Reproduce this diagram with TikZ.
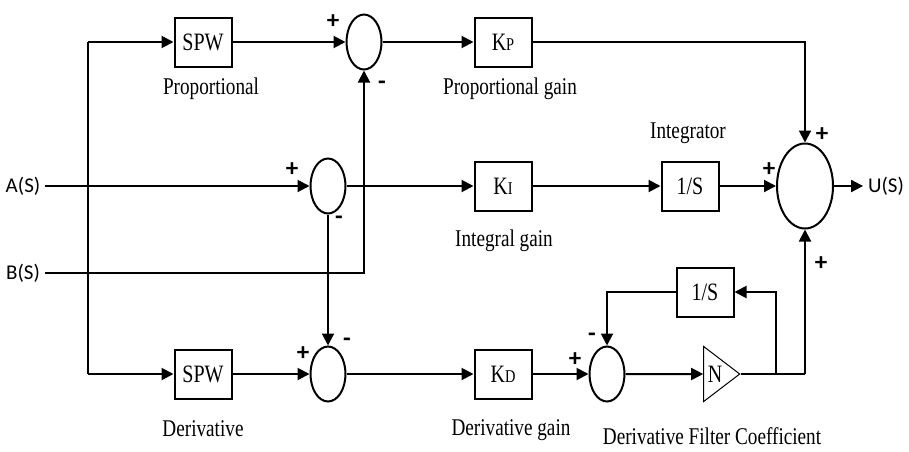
\documentclass[tikz,border=0pt]{standalone}
\usepackage{fontspec}
\setmainfont{Liberation Serif}[FakeStretch=0.8]
\newfontfamily\iofont{Carlito}
\usetikzlibrary{arrows.meta}
\usetikzlibrary{shapes.geometric}
\usetikzlibrary{positioning}

\tikzset{
  block/.style   = {draw, line width=1pt, minimum width=28.5pt, minimum height=24.5pt,
                    inner sep=0pt, font=\fontsize{12.5}{14}\selectfont},
  sumnode/.style = {draw, ellipse, line width=1pt, minimum width=17.5pt,
                    minimum height=27.5pt, inner sep=0pt},
  gainnode/.style = {draw, isosceles triangle, isosceles triangle stretches,
                    line width=0.5pt, minimum height=18pt, minimum width=27.5pt,
                    inner sep=0pt, font=\fontsize{12.5}{14}\selectfont},
  sgn/.style     = {inner sep=0pt, font=\iofont\bfseries\fontsize{12.5}{12}\selectfont},
  lbl/.style     = {inner sep=0pt, font=\fontsize{12}{14}\selectfont},
  io/.style      = {inner sep=2pt, font=\iofont\fontsize{10.5}{12}\selectfont},
}
\newcommand{\subsc}[1]{{\fontsize{9}{9}\selectfont #1}}

\begin{document}
\begin{tikzpicture}[x=0.5pt, y=-0.5pt, line width=1pt, >={Triangle[length=6pt,width=6pt]}]
        \useasboundingbox (0,0) rectangle (909,451);

        % inputs
        \node[io] (as) at (23,186)    {A(S)};
        \node[io] (bs) at (23,273)    {B(S)};
        \coordinate (ptop) at (88,42);
        \coordinate (pbot) at (88,374);

        % blocks
        \node[block]   (spwp) at (203,42)  {SPW};
        \node[sumnode] (sump) at (364,42)  {};
        \node[block]   (kp)   at (503,42)  {K\subsc{P}};
        \node[sumnode] (sumi) at (328,186) {};
        \node[block]   (ki)   at (503,186) {K\subsc{I}};
        \node[block]   (intg) at (690,186) {1/S};
        \node[sumnode, minimum width=28pt, minimum height=42.5pt] (sumo) at (805,186) {};
        \node[io]      (us)   at (886,186) {U(S)};
        \node[block]   (spwd) at (203,374) {SPW};
        \node[sumnode] (sumd) at (328,374) {};
        \node[block]   (kd)   at (503,374) {K\subsc{D}};
        \node[sumnode] (sumf) at (607,374) {};
        \node[gainnode] (ngain) at (715,374) {N};
        \node[block]   (filt) at (705,292) {1/S};
        \coordinate (fsplit) at (776,374);
        \coordinate (dout)   at (805,374);

        % labels
        \node[lbl] (l1) at (211,89)  {Proportional};
        \node[lbl] (l2) at (510,89)  {Proportional gain};
        \node[lbl] (l3) at (688,133) {Integrator};
        \node[lbl] (l4) at (504,241) {Integral gain};
        \node[lbl] (l5) at (203,429) {Derivative};
        \node[lbl] (l6) at (511,430) {Derivative gain};
        \node[lbl] (l7) at (712,436) {Derivative Filter Coefficient};

        % signs
        \node[sgn] (s1)  at (333,22)  {+};
        \node[sgn] (s2)  at (382,85)  {-};
        \node[sgn] (s3)  at (292,170) {+};
        \node[sgn] (s4)  at (339,220) {-};
        \node[sgn] (s5)  at (303,354) {+};
        \node[sgn] (s6)  at (347,342) {-};
        \node[sgn] (s7)  at (575,360) {+};
        \node[sgn] (s8)  at (592,337) {-};
        \node[sgn] (s9)  at (822,135) {+};
        \node[sgn] (s10) at (769,170) {+};
        \node[sgn] (s11) at (821,264) {+};

        % connections
        \draw (ptop) -- (pbot);
        \draw[->] (ptop) -- (spwp);
        \draw[->] (pbot) -- (spwd);
        \draw[->] (as) -- (sumi);
        \draw[->] (bs) -| (sump);
        \draw[->] (spwp) -- (sump);
        \draw[->] (sump) -- (kp);
        \draw[->] (kp) -| (sumo);
        \draw[->] (sumi) -- (ki);
        \draw[->] (sumi) -- (sumd);
        \draw[->] (ki) -- (intg);
        \draw[->] (intg) -- (sumo);
        \draw[->] (sumo) -- (us);
        \draw[->] (spwd) -- (sumd);
        \draw[->] (sumd) -- (kd);
        \draw[->] (kd) -- (sumf);
        \draw[->] (sumf) -- (ngain);
        \draw (ngain.apex) -- (dout);
        \draw[->] (dout) -- (sumo);
        \draw[->] (fsplit) |- (filt);
        \draw[->] (filt) -| (sumf);
\end{tikzpicture}
\end{document}
